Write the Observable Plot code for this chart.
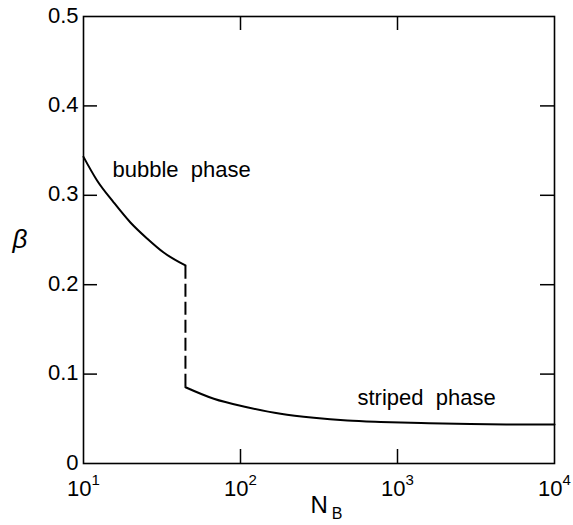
<!DOCTYPE html>
<html>
<head>
<meta charset="utf-8">
<script src="https://cdn.jsdelivr.net/npm/d3@7"></script>
<script src="https://cdn.jsdelivr.net/npm/@observablehq/plot@0.6"></script>
<style>
  html, body { margin: 0; padding: 0; background: #fff; }
</style>
</head>
<body>
<div id="chart"></div>
<script>
// Bubble phase boundary (solid, left)
const bubbleN    = [10, 12.2, 15.6, 19.9, 25.4, 32.4, 44.6];
const bubbleBeta = [0.343, 0.3166, 0.2919, 0.2696, 0.2517, 0.2360, 0.2215];
// Striped phase boundary (solid, right)
const stripedN    = [44.6, 67.6, 110, 180, 293, 479, 780, 1585, 2917, 5623, 10000];
const stripedBeta = [0.0853, 0.0724, 0.0630, 0.0556, 0.0511, 0.0481, 0.0465, 0.0450, 0.0441, 0.0436, 0.0435];
// Discontinuity (dashed)
const transitionN = [44.6];
const transitionLow = [0.0853];
const transitionHigh = [0.2215];
// Ticks
const xTicks = [10, 100, 1000, 10000];
const yTicks = [0, 0.1, 0.2, 0.3, 0.4, 0.5];
// Phase labels
const labelText = ["bubble\u00a0\u00a0phase", "striped\u00a0\u00a0phase"];
const labelN    = [15.3, 556];
const labelBeta = [0.321, 0.0649];

const W = 573, H = 525;
const mL = 83, mR = 19, mT = 16, mB = 62;
const innerH = H - mT - mB, innerW = W - mL - mR;
const tickLen = 14;

const bubble = bubbleN.map((n, i) => ({n, b: bubbleBeta[i]}));
const striped = stripedN.map((n, i) => ({n, b: stripedBeta[i]}));
const trans = transitionN.map((n, i) => ({n, lo: transitionLow[i], hi: transitionHigh[i]}));
const labels = labelText.map((t, i) => ({t, n: labelN[i], b: labelBeta[i]}));

const svg = Plot.plot({
  width: W, height: H,
  marginLeft: mL, marginRight: mR, marginTop: mT, marginBottom: mB,
  style: {fontFamily: "'Liberation Sans', Arial, sans-serif", fontSize: "22px", color: "black", background: "white"},
  x: {type: "log", domain: [10, 10000]},
  y: {domain: [0, 0.5]},
  marks: [
    Plot.frame({stroke: "black", strokeWidth: 1.6}),
    // inward ticks: bottom, top
    Plot.ruleX(xTicks.slice(1, -1), {x: d => d, insetTop: innerH - tickLen, stroke: "black", strokeWidth: 1.5}),
    Plot.ruleX(xTicks.slice(1, -1), {x: d => d, insetBottom: innerH - tickLen, stroke: "black", strokeWidth: 1.5}),
    // inward ticks: left, right
    Plot.ruleY(yTicks.slice(1, -1), {y: d => d, insetRight: innerW - tickLen, stroke: "black", strokeWidth: 1.5}),
    Plot.ruleY(yTicks.slice(1, -1), {y: d => d, insetLeft: innerW - tickLen, stroke: "black", strokeWidth: 1.5}),
    Plot.axisX({ticks: xTicks, tickSize: 0, tickPadding: 17, fontSize: 22, label: null,
                tickFormat: d => String(Math.round(Math.log10(d)))}),
    Plot.axisY({ticks: yTicks, tickSize: 0, tickPadding: 5, fontSize: 22, label: null, dy: -1,
                tickFormat: d => d === 0 ? "0" : d.toFixed(1)}),
    Plot.line(bubble, {x: "n", y: "b", curve: "monotone-x", stroke: "black", strokeWidth: 2}),
    Plot.line(striped, {x: "n", y: "b", curve: "monotone-x", stroke: "black", strokeWidth: 2}),
    Plot.ruleX(trans, {x: "n", y1: "lo", y2: "hi", stroke: "black", strokeWidth: 2, strokeDasharray: "13,5"}),
    Plot.text(labels, {x: "n", y: "b", text: "t", textAnchor: "start", lineAnchor: "bottom", fontSize: 22, fill: "black"})
  ]
});

// superscript exponents on x tick labels
d3.select(svg).selectAll('g[aria-label="x-axis tick label"] text').each(function() {
  const e = this.textContent;
  const t = d3.select(this);
  t.text(null);
  t.append("tspan").text("10");
  t.append("tspan").attr("dy", "-11").attr("font-size", "15").text(e);
});

const sel = d3.select(svg);
// x-axis title N_B
const nb = sel.append("text")
  .attr("x", (mL + (W - mR)) / 2 + 8)
  .attr("y", 513)
  .attr("text-anchor", "middle")
  .attr("font-size", 24)
  .attr("fill", "black");
nb.append("tspan").text("N");
nb.append("tspan").attr("dy", "6").attr("dx", "4").attr("font-size", "16").text("B");
// y-axis title beta
sel.append("text")
  .attr("x", 20)
  .attr("y", (mT + (H - mB)) / 2 + 8)
  .attr("text-anchor", "middle")
  .attr("font-size", 26)
  .attr("font-style", "italic")
  .attr("fill", "black")
  .text("β");

document.getElementById("chart").appendChild(svg);
</script>
</body>
</html>
